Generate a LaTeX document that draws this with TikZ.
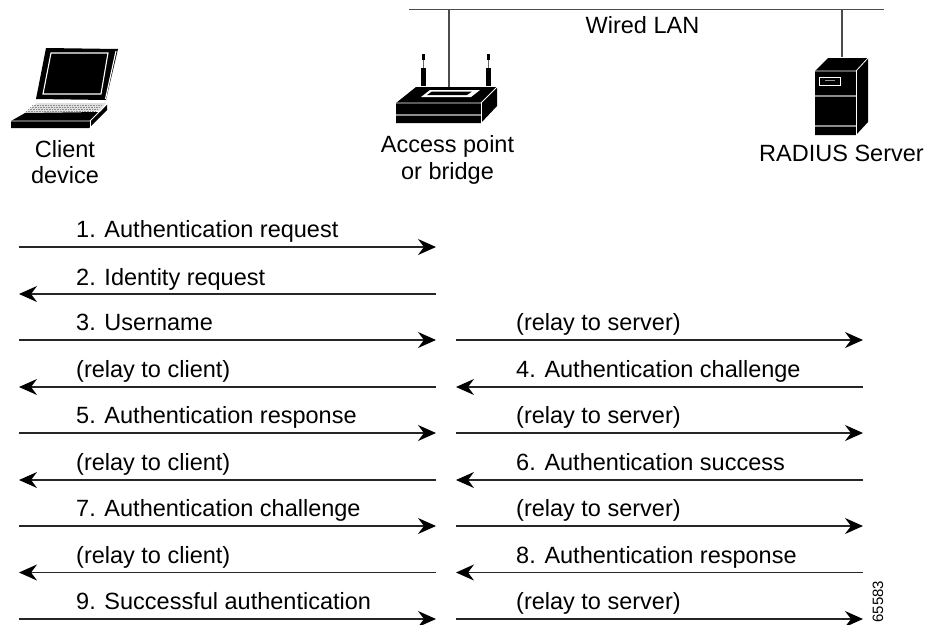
\documentclass[tikz,border=0pt]{standalone}
\usepackage{fontspec}
\setmainfont{Liberation Sans}
\usetikzlibrary{arrows.meta}
\tikzset{
  lbl/.style={anchor=base west,inner sep=0pt,font=\fontsize{23.5}{26}\selectfont},
  ctr/.style={anchor=base,inner sep=0pt,align=center,font=\fontsize{23.5}{26.5}\selectfont},
  msg/.style={line width=1.3pt,draw=black!85,-{Stealth[length=18pt,width=16pt,inset=6pt,color=black]}},
  wire/.style={line width=1.2pt,draw=black!70},
  blk/.style={fill=black,draw=none},
  wln/.style={draw=white,line width=1.1pt},
  gln/.style={draw=black!45,line width=1.3pt}
}
\begin{document}
\begin{tikzpicture}[x=1pt,y=-1pt]
\useasboundingbox (0,0) rectangle (929,624);
% LAN
\coordinate (lanl) at (409,9.5);
\coordinate (lanr) at (884,9.5);
\coordinate (lanap) at (449,9.5);
\coordinate (apport) at (449,89);
\coordinate (lansv) at (842,9.5);
\coordinate (svport) at (842,57);
\draw[wire] (lanl) -- (lanr);
\draw[wire] (lanap) -- (apport);
\draw[wire] (lansv) -- (svport);
\node[ctr] (wired) at (642.5,33.5) {Wired LAN};
% Laptop
\fill[blk] (46,48) -- (118,49) -- (106,100) -- (36,99) -- cycle;
\draw[wln] (51,53) -- (108,53) -- (101,94) -- (43,94) -- cycle;
\draw[wln] (116,51) -- (105.5,99);
\fill[black!12] (37,103) -- (106,103) -- (100,111) -- (25,113) -- cycle;
\foreach \k in {105,107,109,111}{\draw[black!45,line width=.6pt,densely dotted] (32+105-\k*1,\k) -- (104-\k+103,\k);}
\fill[blk] (25,113) -- (100,112) -- (107,104) -- (107,110) -- (89,128) -- (11,128) -- (11,121) -- cycle;
\draw[draw=white,line width=.9pt] (11,121) -- (90,121) -- (107,104);
\draw[draw=white,line width=.9pt] (90,121) -- (90,128);
\node[ctr] (client) at (65,183.5) {Client\\device};
% Access point
\fill[blk] (396,103) -- (416,87) -- (497,87) -- (497,106) -- (481,123) -- (396,123) -- cycle;
\fill[white] (421,97) -- (430,90) -- (480,90) -- (471,97) -- cycle;
\fill[blk] (427,95) -- (432,91.5) -- (472,91.5) -- (467,95) -- cycle;
\draw[draw=white,line width=.8pt] (396,103) -- (481,103) -- (497,87);
\draw[draw=white,line width=.8pt] (481,103) -- (481,123);
\draw[gln] (396,115) -- (481,115);
\fill[blk] (421,68) rectangle (425.5,86);
\fill[blk] (486,68) rectangle (490.5,86);
\fill[blk] (421.7,54) rectangle (424.5,59.5);
\fill[blk] (486.7,54) rectangle (489.5,59.5);
\draw[black!60,line width=.9pt] (423.2,59.5) -- (423.2,68);
\draw[black!60,line width=.9pt] (488.2,59.5) -- (488.2,68);
\node[ctr] (apn) at (447.5,179) {Access point\\or bridge};
% Server
\fill[blk] (815,71) -- (828,58) -- (868,58) -- (868,122) -- (856,135) -- (815,135) -- cycle;
\draw[draw=white,line width=.8pt] (815,71) -- (856,71) -- (868,58);
\draw[draw=white,line width=.8pt] (856,71) -- (856,135);
\draw[draw=white,line width=1pt] (819.5,77) rectangle (840.5,85);
\draw[draw=black!40,line width=.9pt] (825,80.5) -- (835,80.5);
\draw[gln] (815,96) -- (855.5,96);
\draw[gln] (815,126) -- (855.5,126);
\node[ctr] (rad) at (841.5,161) {RADIUS Server};
% Arrow ends
\foreach \n/\y in {1/247,2/294,3/340,4/387,5/433,6/480,7/526,8/572.5,9/619}{
  \coordinate (L\n) at (19,\y);
  \coordinate (M\n) at (436,\y);
  \coordinate (N\n) at (456,\y);
  \coordinate (R\n) at (863,\y);
}
\draw[msg] (L1) -- (M1);
\draw[msg] (M2) -- (L2);
\draw[msg] (L3) -- (M3);
\draw[msg] (N3) -- (R3);
\draw[msg] (M4) -- (L4);
\draw[msg] (R4) -- (N4);
\draw[msg] (L5) -- (M5);
\draw[msg] (N5) -- (R5);
\draw[msg] (M6) -- (L6);
\draw[msg] (R6) -- (N6);
\draw[msg] (L7) -- (M7);
\draw[msg] (N7) -- (R7);
\draw[msg] (M8) -- (L8);
\draw[msg] (R8) -- (N8);
\draw[msg] (L9) -- (M9);
\draw[msg] (N9) -- (R9);
% Labels
\node[lbl] (t1) at (76,237) {1. Authentication request};
\node[lbl] (t2) at (76,285) {2. Identity request};
\node[lbl] (t3) at (76,330) {3. Username};
\node[lbl] (t3b) at (516,330) {(relay to server)};
\node[lbl] (t4) at (76,377) {(relay to client)};
\node[lbl] (t4b) at (516,377) {4. Authentication challenge};
\node[lbl] (t5) at (76,423) {5. Authentication response};
\node[lbl] (t5b) at (516,423) {(relay to server)};
\node[lbl] (t6) at (76,470) {(relay to client)};
\node[lbl] (t6b) at (516,470) {6. Authentication success};
\node[lbl] (t7) at (76,516) {7. Authentication challenge};
\node[lbl] (t7b) at (516,516) {(relay to server)};
\node[lbl] (t8) at (76,563) {(relay to client)};
\node[lbl] (t8b) at (516,563) {8. Authentication response};
\node[lbl] (t9) at (76,609) {9. Successful authentication};
\node[lbl] (t9b) at (516,609) {(relay to server)};
\node[rotate=90,inner sep=0pt,font=\fontsize{15}{17}\selectfont] (fig) at (878,601.5) {65583};
\end{tikzpicture}
\end{document}
